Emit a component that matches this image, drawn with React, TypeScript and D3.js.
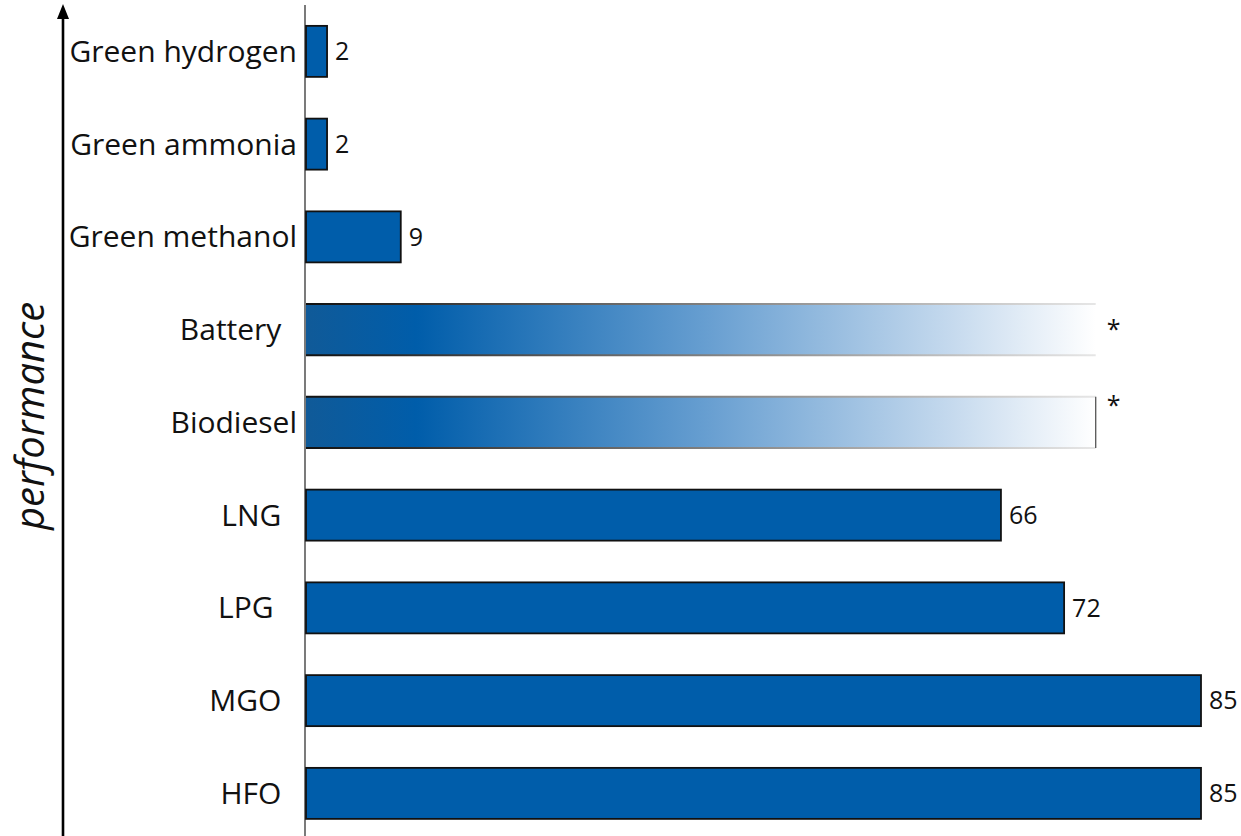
import React from "react";
import * as d3 from "d3";

// Fuel options, listed top to bottom
const categories = [
  "Green hydrogen",
  "Green ammonia",
  "Green methanol",
  "Battery",
  "Biodiesel",
  "LNG",
  "LPG",
  "MGO",
  "HFO",
];

// Displayed category text (trailing no-break spaces keep the original indent)
const categoryLabels = [
  "Green hydrogen",
  "Green ammonia",
  "Green methanol",
  "Battery\u00a0\u00a0",
  "Biodiesel",
  "LNG\u00a0\u00a0",
  "LPG\u00a0\u00a0\u00a0",
  "MGO\u00a0\u00a0",
  "HFO\u00a0\u00a0",
];

// Bar lengths
const values = [2, 2, 9, 75, 75, 66, 72, 85, 85];

// Text printed at the end of each bar
const valueLabels = ["2", "2", "9", "*", "*", "66", "72", "85", "85"];

// Bars drawn as a fading gradient (uncertain estimate)
const fadedCategories = ["Battery", "Biodiesel"];
// Faded bars that still show a closing edge
const closedFadedCategories = ["Biodiesel"];
// Notes placed at the top of their bar instead of centred
const raisedNoteCategories = ["Biodiesel"];

const W = 1241;
const H = 836;
const FONT = "'Open Sans', 'Noto Sans', sans-serif";
const BLUE = "#005DAA";

export default function App() {
  const x = d3.scaleLinear().domain([0, 85]).range([306, 1201]);
  const y = d3
    .scaleBand<string>()
    .domain(categories)
    .range([5, 5 + 92.75 * categories.length])
    .paddingInner(0.45)
    .paddingOuter(0.225);
  const bw = y.bandwidth();
  const axisX = 305;
  const arrowX = 63;

  const fadedMax = d3.max(
    categories.filter((c) => fadedCategories.includes(c)),
    (c) => values[categories.indexOf(c)]
  ) as number;
  const gx0 = x(0);
  const gx1 = x(fadedMax);

  return (
    <svg
      width={W}
      height={H}
      style={{ position: "absolute", left: 0, top: 0, background: "#fff" }}
      fontFamily={FONT}
    >
      <defs>
        <linearGradient id="fadeFill" gradientUnits="userSpaceOnUse" x1={gx0} x2={gx1} y1={0} y2={0}>
          <stop offset="0" stopColor="#105a98" />
          <stop offset="0.14" stopColor={BLUE} />
          <stop offset="0.5" stopColor="#659dd0" />
          <stop offset="0.82" stopColor="#c6daee" />
          <stop offset="1" stopColor="#ffffff" />
        </linearGradient>
        <linearGradient id="fadeStroke" gradientUnits="userSpaceOnUse" x1={gx0} x2={gx1} y1={0} y2={0}>
          <stop offset="0" stopColor="#111" />
          <stop offset="0.3" stopColor="#555" />
          <stop offset="1" stopColor="#e6e6e6" />
        </linearGradient>
      </defs>

      {/* vertical performance arrow */}
      <line x1={arrowX} x2={arrowX} y1={H} y2={16} stroke="#000" strokeWidth={2.6} />
      <path d={`M${arrowX},4 L${arrowX - 6},19 L${arrowX + 6},19 Z`} fill="#000" />
      <text
        transform={`translate(44,${416}) rotate(-90)`}
        textAnchor="middle"
        fontSize={40}
        fontStyle="italic"
        fill="#111"
      >
        performance
      </text>

      {/* category axis */}
      <line x1={axisX} x2={axisX} y1={5} y2={H} stroke="#333" strokeWidth={1.3} />

      {categories.map((c, i) => {
        const top = y(c) as number;
        const cy = top + bw / 2;
        const faded = fadedCategories.includes(c);
        const x1 = x(values[i]);
        const raised = raisedNoteCategories.includes(c);
        return (
          <g key={c}>
            <text
              x={297}
              y={cy}
              dy="0.35em"
              textAnchor="end"
              fontSize={30}
              fill="#111"
              style={{ whiteSpace: "pre" }}
            >
              {categoryLabels[i]}
            </text>
            {faded ? (
              <g>
                <rect x={x(0)} y={top} width={x1 - x(0)} height={bw} fill="url(#fadeFill)" />
                <line x1={x(0)} x2={x1} y1={top} y2={top} stroke="url(#fadeStroke)" strokeWidth={2} />
                <line x1={x(0)} x2={x1} y1={top + bw} y2={top + bw} stroke="url(#fadeStroke)" strokeWidth={2} />
                {closedFadedCategories.includes(c) && (
                  <line x1={x1} x2={x1} y1={top} y2={top + bw} stroke="#555" strokeWidth={1.3} />
                )}
              </g>
            ) : (
              <rect
                x={x(0)}
                y={top}
                width={x1 - x(0)}
                height={bw}
                fill={BLUE}
                stroke="#111"
                strokeWidth={1.8}
              />
            )}
            <text
              x={x1 + (faded ? 11 : 8)}
              y={raised ? top + 8 : cy}
              dy="0.35em"
              fontSize={25}
              fill="#111"
            >
              {valueLabels[i]}
            </text>
          </g>
        );
      })}
    </svg>
  );
}
